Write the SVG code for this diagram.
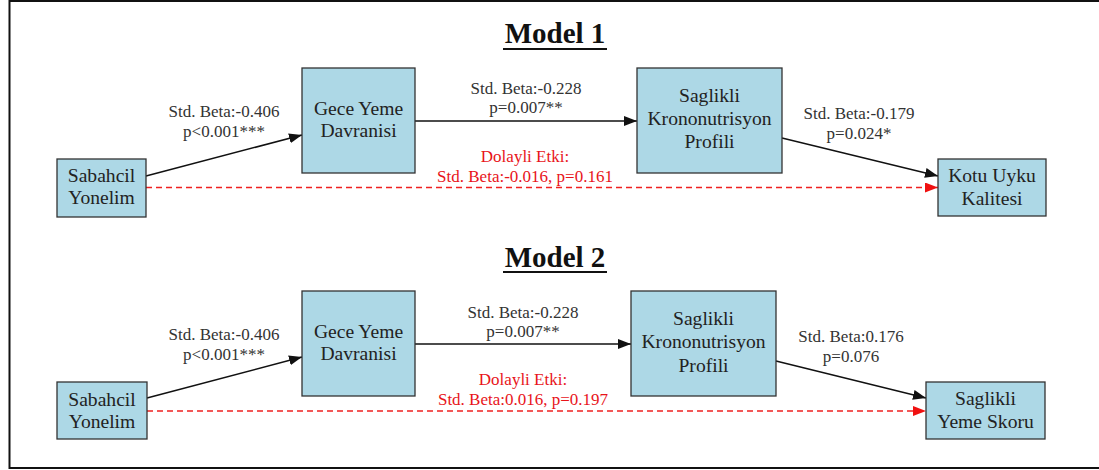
<svg xmlns="http://www.w3.org/2000/svg" width="1099" height="470" viewBox="0 0 1099 470">
<style>
.node rect{fill:#add8e6;stroke:#333;stroke-width:1.3}
.nt{font-family:"Liberation Serif",serif;font-size:19.6px;fill:#222;text-anchor:middle}
.el{font-family:"Liberation Serif",serif;font-size:17px;fill:#333;text-anchor:middle}
.rl{font-family:"Liberation Serif",serif;font-size:17px;fill:#e8141a;text-anchor:middle}
.title{font-family:"Liberation Serif",serif;font-size:29px;font-weight:bold;fill:#111;text-anchor:middle}
.e{stroke:#111;stroke-width:1.5;fill:none}
.d{stroke:#f02020;stroke-width:1.5;fill:none;stroke-dasharray:6,4}
</style>
<defs>
<marker id="ab" markerWidth="13" markerHeight="10" refX="13" refY="5" orient="auto" markerUnits="userSpaceOnUse"><path d="M0,0 L13,5 L0,10 z" fill="#111"/></marker>
<marker id="ar" markerWidth="13" markerHeight="10" refX="13" refY="5" orient="auto" markerUnits="userSpaceOnUse"><path d="M0,0 L13,5 L0,10 z" fill="#f01010"/></marker>
</defs>
<rect x="9.5" y="1" width="1100" height="467" fill="#fff" stroke="#111" stroke-width="2"/>
<g id="titles">
<text class="title" x="555" y="43">Model 1</text>
<line x1="503" y1="49" x2="607" y2="49" stroke="#111" stroke-width="2"/>
<text class="title" x="555" y="267">Model 2</text>
<line x1="503" y1="272" x2="607" y2="272" stroke="#111" stroke-width="2"/>
</g>
<g id="connectors">
<line class="e" x1="146" y1="176" x2="302" y2="135" marker-end="url(#ab)"/>
<line class="e" x1="415" y1="121" x2="637" y2="121" marker-end="url(#ab)"/>
<line class="e" x1="782" y1="138" x2="938" y2="176" marker-end="url(#ab)"/>
<line class="d" x1="146" y1="187.5" x2="938" y2="187.5" marker-end="url(#ar)"/>
<line class="e" x1="147" y1="398" x2="302" y2="357" marker-end="url(#ab)"/>
<line class="e" x1="415" y1="344" x2="631" y2="344" marker-end="url(#ab)"/>
<line class="e" x1="776" y1="361" x2="926" y2="398" marker-end="url(#ab)"/>
<line class="d" x1="147" y1="411" x2="926" y2="411" marker-end="url(#ar)"/>
<text class="el" x="224" y="117">Std. Beta:-0.406</text>
<text class="el" x="224" y="137">p&lt;0.001***</text>
<text class="el" x="526" y="94">Std. Beta:-0.228</text>
<text class="el" x="526" y="113">p=0.007**</text>
<text class="el" x="859" y="119">Std. Beta:-0.179</text>
<text class="el" x="859" y="139">p=0.024*</text>
<text class="rl" x="525" y="162">Dolayli Etki:</text>
<text class="rl" x="525" y="182">Std. Beta:-0.016, p=0.161</text>
<text class="el" x="224" y="340">Std. Beta:-0.406</text>
<text class="el" x="224" y="360">p&lt;0.001***</text>
<text class="el" x="523" y="318">Std. Beta:-0.228</text>
<text class="el" x="523" y="337">p=0.007**</text>
<text class="el" x="851" y="342">Std. Beta:0.176</text>
<text class="el" x="851" y="362">p=0.076</text>
<text class="rl" x="523" y="385">Dolayli Etki:</text>
<text class="rl" x="523" y="405">Std. Beta:0.016, p=0.197</text>
</g>
<g id="m1-sabahcil" class="node"><rect x="57" y="159" width="89" height="58"/><text class="nt" x="101.5" y="182">Sabahcil</text><text class="nt" x="101.5" y="204">Yonelim</text></g>
<g id="m1-gece" class="node"><rect x="302" y="68" width="113" height="105"/><text class="nt" x="358.5" y="115">Gece Yeme</text><text class="nt" x="358.5" y="137">Davranisi</text></g>
<g id="m1-saglikli" class="node"><rect x="637" y="68" width="145" height="105"/><text class="nt" x="709.5" y="102">Saglikli</text><text class="nt" x="709.5" y="125">Krononutrisyon</text><text class="nt" x="709.5" y="148">Profili</text></g>
<g id="m1-kotu" class="node"><rect x="938" y="159" width="108" height="57"/><text class="nt" x="992" y="182">Kotu Uyku</text><text class="nt" x="992" y="205">Kalitesi</text></g>
<g id="m2-sabahcil" class="node"><rect x="57" y="382" width="90" height="57"/><text class="nt" x="102" y="406">Sabahcil</text><text class="nt" x="102" y="428">Yonelim</text></g>
<g id="m2-gece" class="node"><rect x="302" y="291" width="113" height="105"/><text class="nt" x="358.5" y="338">Gece Yeme</text><text class="nt" x="358.5" y="360">Davranisi</text></g>
<g id="m2-saglikli" class="node"><rect x="631" y="291" width="145" height="105"/><text class="nt" x="703.5" y="325">Saglikli</text><text class="nt" x="703.5" y="348">Krononutrisyon</text><text class="nt" x="703.5" y="372">Profili</text></g>
<g id="m2-skor" class="node"><rect x="926" y="382" width="119" height="57"/><text class="nt" x="985.5" y="405">Saglikli</text><text class="nt" x="985.5" y="428">Yeme Skoru</text></g>
</svg>
